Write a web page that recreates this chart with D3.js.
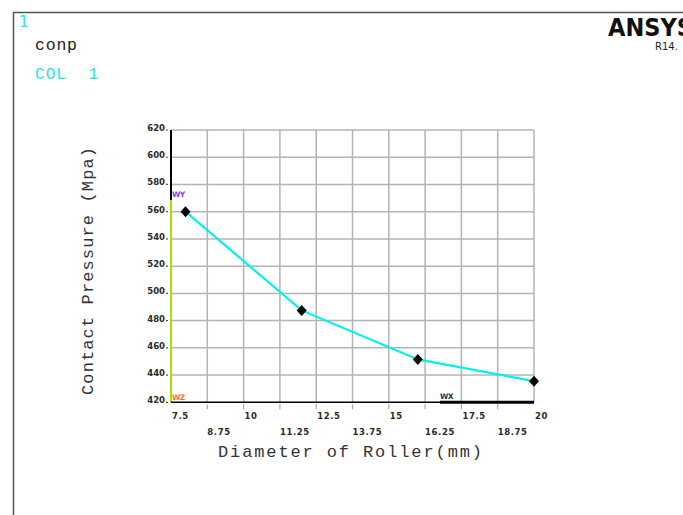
<!DOCTYPE html>
<html>
<head>
<meta charset="utf-8">
<script src="https://cdn.jsdelivr.net/npm/d3@7"></script>
<style>
  html, body { margin: 0; padding: 0; background: #fff; }
  svg { display: block; }
</style>
</head>
<body>
<script>
// Roller diameter (mm) vs. contact pressure (MPa)
const diameters = [8, 12, 16, 20];
const pressures = [560, 487.5, 451.5, 435.5];

const xMajorTicks = [7.5, 10, 12.5, 15, 17.5, 20];
const xMinorTicks = [8.75, 11.25, 13.75, 16.25, 18.75];
const yTicks = [420, 440, 460, 480, 500, 520, 540, 560, 580, 600, 620];

const W = 683, H = 515;
const svg = d3.select("body").append("svg").attr("width", W).attr("height", H);

// window frame
svg.append("path").attr("d", "M13.5,515 V12.5 H683")
  .attr("fill", "none").attr("stroke", "#555").attr("stroke-width", 1.5);

const mono = "'Liberation Mono', 'DejaVu Sans Mono', monospace";
const tickFont = "Verdana, 'DejaVu Sans', sans-serif";

svg.append("text").attr("x", 19).attr("y", 27).text("1")
  .attr("fill", "#22e6e6").attr("font-family", "'DejaVu Sans', sans-serif").attr("font-size", 15);
svg.append("text").attr("x", 35).attr("y", 50).text("conp")
  .attr("fill", "#222").attr("font-family", mono).attr("font-size", 16.5)
  .attr("textLength", 42).attr("lengthAdjust", "spacing");
svg.append("text").attr("x", 35).attr("y", 79).text("COL  1")
  .attr("fill", "#22e6e6").attr("font-family", mono).attr("font-size", 16)
  .attr("xml:space", "preserve").style("white-space", "pre")
  .attr("textLength", 63).attr("lengthAdjust", "spacing");

svg.append("text").attr("x", 608).attr("y", 36).text("ANSYS")
  .attr("fill", "#111").attr("font-weight", "bold")
  .attr("font-family", "'Liberation Sans Narrow', 'DejaVu Sans Condensed', 'Roboto Condensed', sans-serif")
  .attr("font-size", 25);
svg.append("text").attr("x", 655).attr("y", 50).text("R14.")
  .attr("fill", "#222").attr("font-family", "'DejaVu Sans', sans-serif").attr("font-size", 10);

// plot area
const x0 = 171, x1 = 534, y0 = 402.3, y1 = 130;
const x = d3.scaleLinear().domain([7.5, 20]).range([x0, x1]);
const y = d3.scaleLinear().domain([420, 620]).range([y0, y1]);

const grid = svg.append("g").attr("stroke", "#b4b4b4").attr("stroke-width", 1.5);
grid.selectAll("line.v").data(xMajorTicks.concat(xMinorTicks).filter(d => d > 7.5))
  .join("line").attr("class", "v")
  .attr("x1", d => x(d)).attr("x2", d => x(d)).attr("y1", y1).attr("y2", y0);
grid.selectAll("line.h").data(yTicks.filter(d => d > 420))
  .join("line").attr("class", "h")
  .attr("y1", d => y(d)).attr("y2", d => y(d)).attr("x1", x0).attr("x2", x1);

// x axis ticks (below axis)
svg.append("g").attr("stroke", "#aaa").attr("stroke-width", 1.2)
  .selectAll("line").data(xMajorTicks.concat(xMinorTicks).filter(d => d > 7.5 && d < 20))
  .join("line")
  .attr("x1", d => x(d)).attr("x2", d => x(d)).attr("y1", y0 + 2).attr("y2", y0 + 7);

// x tick labels
svg.append("g").selectAll("text").data(xMajorTicks).join("text")
  .attr("x", d => x(d) + 1).attr("y", 419).text(d => d)
  .attr("font-family", tickFont).attr("font-weight", "bold").attr("font-size", 8.5)
  .attr("fill", "#2a2a2a").attr("letter-spacing", 0.6);
svg.append("g").selectAll("text").data(xMinorTicks).join("text")
  .attr("x", d => x(d)).attr("y", 435).text(d => d)
  .attr("font-family", tickFont).attr("font-weight", "bold").attr("font-size", 8.5)
  .attr("fill", "#2a2a2a").attr("letter-spacing", 0.6);

// y tick labels and marks
svg.append("g").selectAll("text").data(yTicks).join("text")
  .attr("x", 165).attr("y", d => y(d) + 1).attr("text-anchor", "end").text(d => d)
  .attr("font-family", tickFont).attr("font-weight", "bold").attr("font-size", 8.5)
  .attr("fill", "#2a2a2a");
svg.append("g").attr("stroke", "#555").attr("stroke-width", 1.2)
  .selectAll("line").data(yTicks).join("line")
  .attr("x1", 166).attr("x2", 168).attr("y1", d => y(d)).attr("y2", d => y(d));

// y axis: black upper part, green lower part
svg.append("line").attr("x1", x0).attr("x2", x0).attr("y1", y1).attr("y2", 200)
  .attr("stroke", "#000").attr("stroke-width", 2);
svg.append("line").attr("x1", x0).attr("x2", x0).attr("y1", 200).attr("y2", y0)
  .attr("stroke", "#a8e000").attr("stroke-width", 2);

// x axis: thin then thick
svg.append("line").attr("x1", x0).attr("x2", 440).attr("y1", y0).attr("y2", y0)
  .attr("stroke", "#000").attr("stroke-width", 1.5);
svg.append("line").attr("x1", 440).attr("x2", x1).attr("y1", y0).attr("y2", y0)
  .attr("stroke", "#000").attr("stroke-width", 3);

// triad labels
const small = (t, xx, yy, c) => svg.append("text").attr("x", xx).attr("y", yy).text(t)
  .attr("fill", c).attr("font-family", tickFont).attr("font-weight", "bold")
  .attr("font-size", 7.5).attr("letter-spacing", -0.5);
small("WY", 172, 197, "#8040ff");
small("WZ", 172, 400, "#ff6a30");
small("WX", 440, 399, "#203050");

// data line
const pts = diameters.map((d, i) => [d, pressures[i]]);
svg.append("path").datum(pts)
  .attr("d", d3.line().x(d => x(d[0])).y(d => y(d[1])))
  .attr("fill", "none").attr("stroke", "#00f0f0").attr("stroke-width", 2.2);

svg.append("g").selectAll("path").data(pts).join("path")
  .attr("transform", d => `translate(${x(d[0])},${y(d[1])})`)
  .attr("d", "M0,-5.5 L5,0 L0,5.5 L-5,0 Z").attr("fill", "#000");

// axis titles
svg.append("text").attr("x", 350).attr("y", 457).attr("text-anchor", "middle")
  .text("Diameter of Roller(mm)")
  .attr("font-family", mono).attr("font-size", 17).attr("fill", "#333")
  .attr("textLength", 264).attr("lengthAdjust", "spacing");
svg.append("text").attr("transform", "translate(93,271) rotate(-90)")
  .attr("text-anchor", "middle").text("Contact Pressure (Mpa)")
  .attr("font-family", mono).attr("font-size", 17).attr("fill", "#333")
  .attr("textLength", 248).attr("lengthAdjust", "spacing");
</script>
</body>
</html>
